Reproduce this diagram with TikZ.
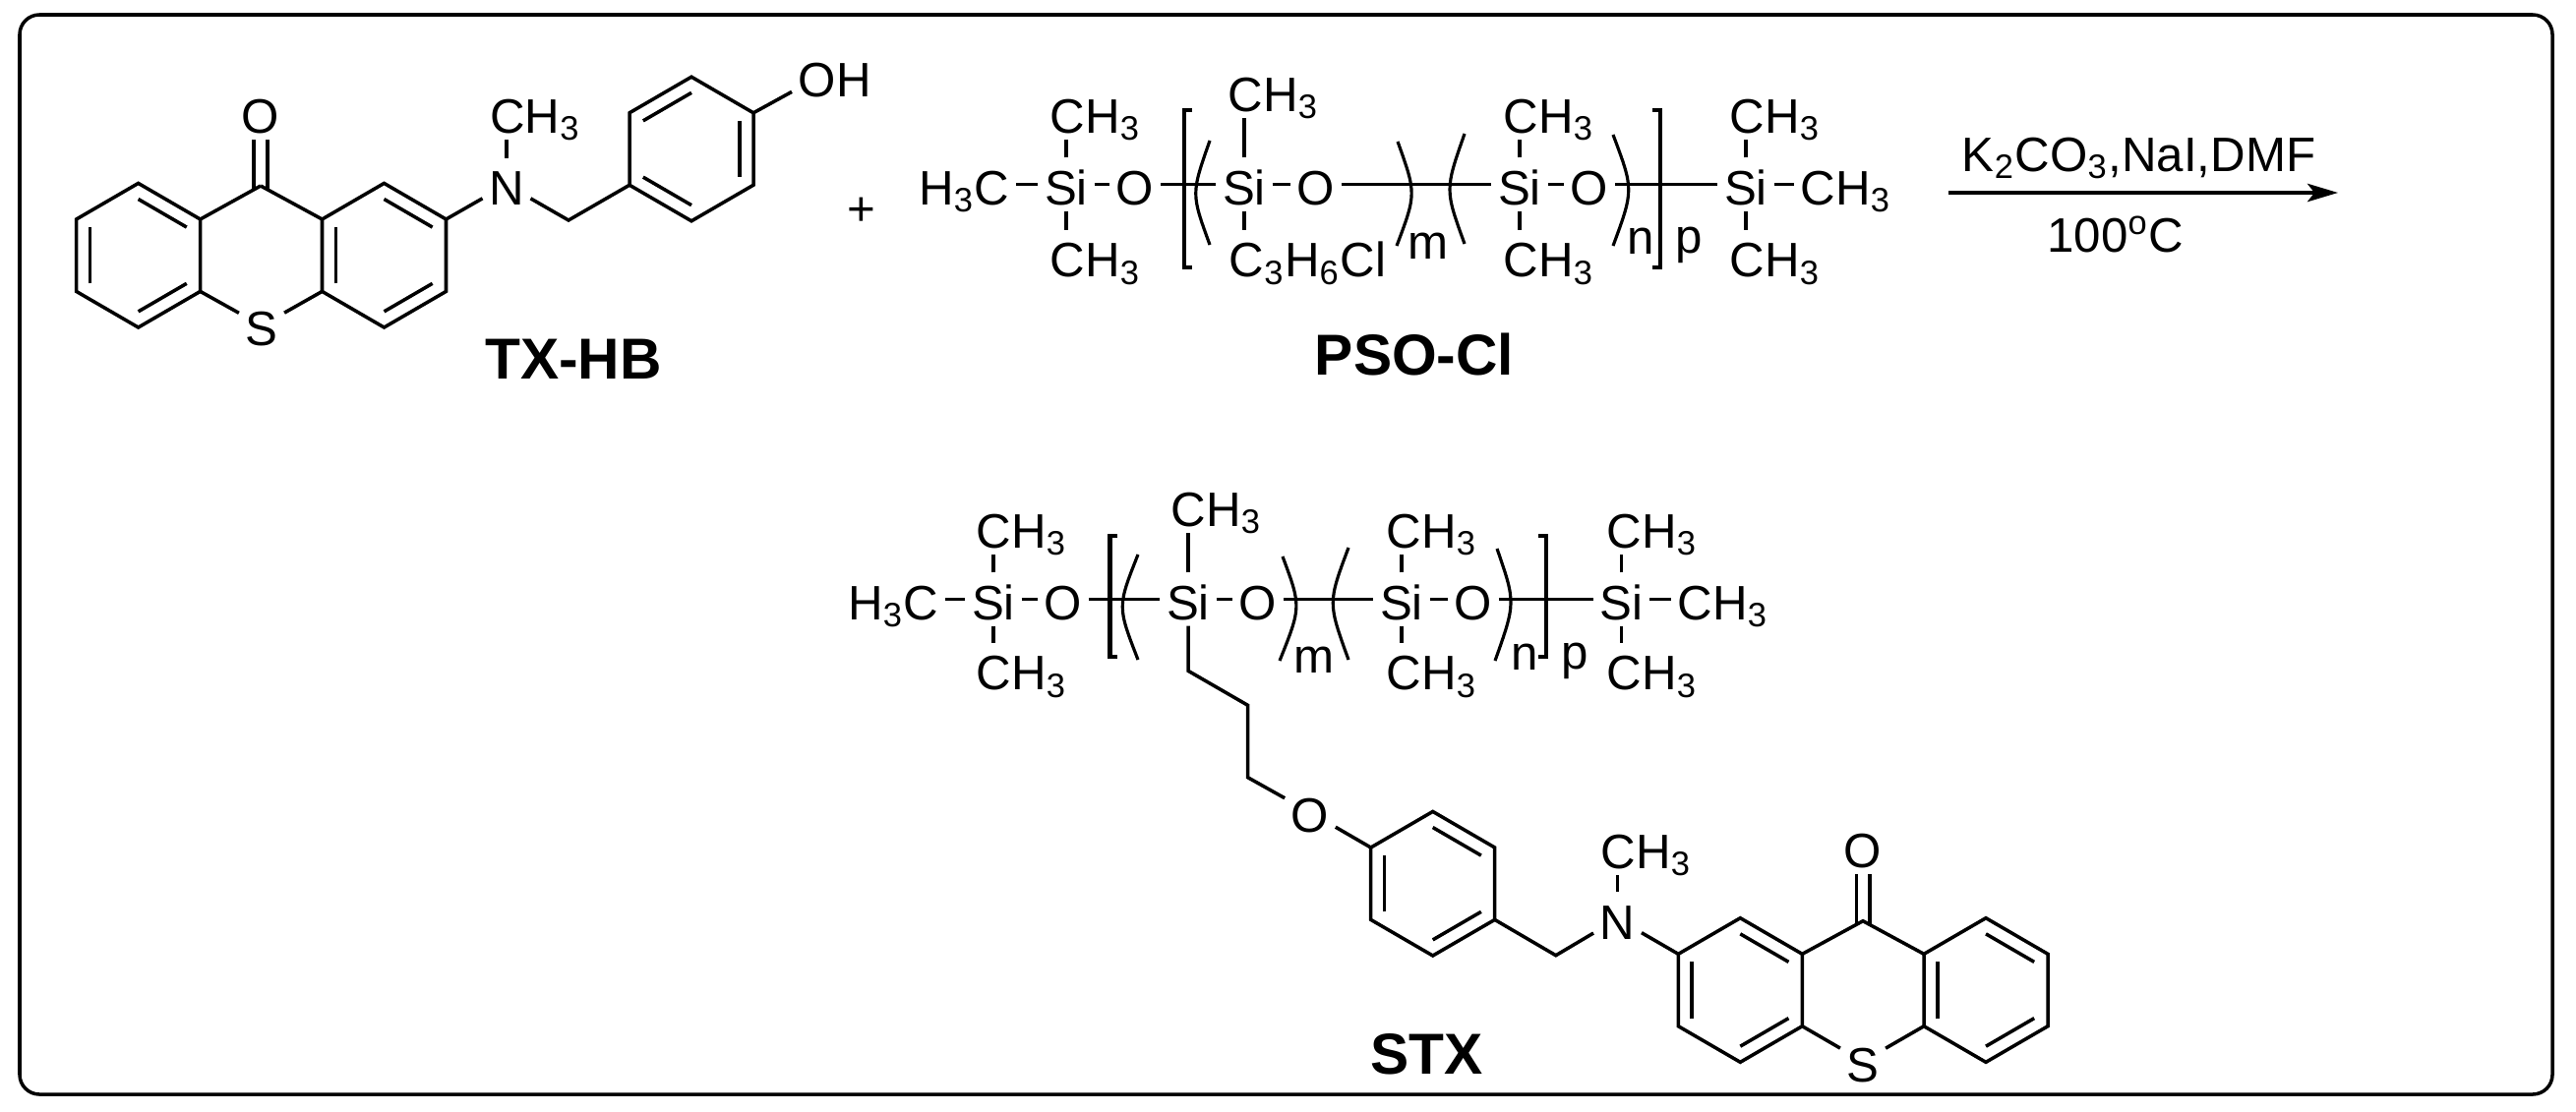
\documentclass[tikz,border=0pt]{standalone}
\usepackage{fontspec}
\setmainfont{Liberation Sans}
\usetikzlibrary{arrows.meta,calc}
\tikzset{
    atom/.style={anchor=base,inner xsep=1.7pt,inner ysep=1.7pt,text height=11.66pt,text depth=0pt,font=\fontsize{14}{16}\selectfont},
    atomw/.style={atom,anchor=base west},
    atome/.style={atom,anchor=base east},
    bond/.style={line width=1pt},
    carbonyl/.style={line width=1pt,double,double distance=2.85pt,shorten <=-1.2pt},
    brack/.style={line width=1.2pt},
    paren/.style={line width=0.9pt},
    index/.style={anchor=base,inner sep=0pt,font=\fontsize{14}{16}\selectfont},
    title/.style={anchor=base,inner sep=0pt,font=\fontsize{16.7}{20}\selectfont\bfseries},
    reagent/.style={anchor=base,inner sep=0pt,font=\fontsize{14}{16}\selectfont},
    frame/.style={line width=1pt,rounded corners=5.7pt},
    arrowline/.style={line width=1.2pt,-{Stealth[length=8.8pt,width=5.2pt,inset=2pt]}}
}
\newcommand{\chthree}{CH\textsubscript{3}}
\newcommand{\hexring}[3]{
    \coordinate (#1c) at (#2);
    \coordinate (#11) at ($(#1c)+(0,-73.3)$);
    \coordinate (#12) at ($(#1c)+(63,-36.7)$);
    \coordinate (#13) at ($(#1c)+(63,36.7)$);
    \coordinate (#14) at ($(#1c)+(0,73.3)$);
    \coordinate (#15) at ($(#1c)+(-63,36.7)$);
    \coordinate (#16) at ($(#1c)+(-63,-36.7)$);
    \draw[bond] (#11) -- (#12) -- (#13) -- (#14) -- (#15) -- (#16) -- cycle;
    \foreach \p/\q in {#3} \draw[bond] ($(#1c)!0.78!(#1\p)$) -- ($(#1c)!0.78!(#1\q)$);
}
\begin{document}
\begin{tikzpicture}[x=0.01cm,y=-0.01cm]
            \useasboundingbox (0,0) rectangle (2619,1130);
            \draw[frame] (20,15) rectangle (2595,1113);

            \coordinate (k) at (265,189);
            \node[atom] (ko) at (265,135) {O};
            \draw[carbonyl] (k) to (ko);
            \hexring{a}{140.6,259.7}{1/2,3/4,5/6}
            \hexring{b}{390.5,259.7}{1/2,3/4,5/6}
            \hexring{c}{703,151.5}{6/1,2/3,4/5}
            \node[atom] (s) at (266,351.7) {S};
            \draw[bond] (a2) to (k);
            \draw[bond] (k) to (b6);
            \draw[bond] (a3) to (s);
            \draw[bond] (s) to (b5);
            \node[atom] (n) at (515,208.3) {N};
            \node[atomw] (nme) at (491.5,135) {\chthree};
            \coordinate (ch) at (578,224);
            \draw[bond] (b2) to (n);
            \draw[bond] (n) to (n |- nme.south);
            \draw[bond] (n) -- (ch) -- (c5);
            \node[atomw] (oh) at (805,98) {OH};
            \draw[bond] (c2) to (oh.200);
            \node[title] (txhb) at (583,385) {TX-HB};
            \node[font=\fontsize{14}{16}\selectfont] (plus) at (876,215) {+};

            \node[atome] (mea) at (1033,208) {H\textsubscript{3}C};
            \node[atom] (sia) at (1084,208) {Si};
            \node[atom] (oa) at (1154,208) {O};
            \node[atom] (sib) at (1265,208) {Si};
            \node[atom] (ob) at (1338,208) {O};
            \node[atom] (sic) at (1545,208) {Si};
            \node[atom] (oc) at (1616,208) {O};
            \node[atom] (sid) at (1775,208) {Si};
            \node[atomw] (med) at (1824,208) {\chthree};
            \node[atomw] (sian) at (1061,135) {\chthree};
            \node[atomw] (sias) at (1061,281.7) {\chthree};
            \node[atomw] (sibn) at (1242,113) {\chthree};
            \node[atomw] (sibs) at (1243,281.7) {C\textsubscript{3}H\textsubscript{6}Cl};
            \node[atomw] (sicn) at (1522,135) {\chthree};
            \node[atomw] (sics) at (1522,281.7) {\chthree};
            \node[atomw] (sidn) at (1752,135) {\chthree};
            \node[atomw] (sids) at (1752,281.7) {\chthree};
            \draw[bond] (mea) to (sia);
            \draw[bond] (sia) to (oa);
            \draw[bond] (oa) to (sib);
            \draw[bond] (sib) to (ob);
            \draw[bond] (ob) to (sic);
            \draw[bond] (sic) to (oc);
            \draw[bond] (oc) to (sid);
            \draw[bond] (sid) to (med);
            \draw[bond] (sia) to (sia |- sian.south);
            \draw[bond] (sia) to (sia |- sias.north);
            \draw[bond] (sib) to (sib |- sibn.south);
            \draw[bond] (sib) to (sib |- sibs.north);
            \draw[bond] (sic) to (sic |- sicn.south);
            \draw[bond] (sic) to (sic |- sics.north);
            \draw[bond] (sid) to (sid |- sidn.south);
            \draw[bond] (sid) to (sid |- sids.north);
            \draw[brack] (1212,112) -- (1204,112) -- (1204,272) -- (1212,272);
            \draw[brack] (1680,112) -- (1688,112) -- (1688,272) -- (1680,272);
            \draw[paren] (1230,143) .. controls (1211,197) .. (1230,249);
            \draw[paren] (1421,144) .. controls (1440,197) .. (1420,250);
            \draw[paren] (1489,136) .. controls (1469,193) .. (1489,248);
            \draw[paren] (1640,137) .. controls (1661,193) .. (1640,250);
            \node[index] (ma) at (1452,263) {m};
            \node[index] (na) at (1668,258) {n};
            \node[index] (pa) at (1717,257) {p};
            \node[title] (psocl) at (1438,381) {PSO-Cl};

            \coordinate (arrowa) at (1981,196);
            \coordinate (arrowb) at (2377,196);
            \draw[arrowline] (arrowa) to (arrowb);
            \node[reagent] (rea) at (2174.5,174.3) {K\textsubscript{2}CO\textsubscript{3},NaI,DMF};
            \node[reagent] (temp) at (2150.7,256.7) {100\textsuperscript{o}C};

            \node[atome] (tmea) at (961,630) {H\textsubscript{3}C};
            \node[atom] (tsia) at (1010,630) {Si};
            \node[atom] (toa) at (1081,630) {O};
            \node[atom] (tsib) at (1208,630) {Si};
            \node[atom] (tob) at (1279,630) {O};
            \node[atom] (tsic) at (1425,630) {Si};
            \node[atom] (toc) at (1498,630) {O};
            \node[atom] (tsid) at (1648.6,630) {Si};
            \node[atomw] (tmed) at (1699,630) {\chthree};
            \node[atomw] (tsian) at (986,557.3) {\chthree};
            \node[atomw] (tsias) at (986,701.7) {\chthree};
            \node[atomw] (tsibn) at (1184,535) {\chthree};
            \node[atomw] (tsicn) at (1403,557.3) {\chthree};
            \node[atomw] (tsics) at (1403,701.7) {\chthree};
            \node[atomw] (tsidn) at (1627,557.3) {\chthree};
            \node[atomw] (tsids) at (1627,701.7) {\chthree};
            \draw[bond] (tmea) to (tsia);
            \draw[bond] (tsia) to (toa);
            \draw[bond] (toa) to (tsib);
            \draw[bond] (tsib) to (tob);
            \draw[bond] (tob) to (tsic);
            \draw[bond] (tsic) to (toc);
            \draw[bond] (toc) to (tsid);
            \draw[bond] (tsid) to (tmed);
            \draw[bond] (tsia) to (tsia |- tsian.south);
            \draw[bond] (tsia) to (tsia |- tsias.north);
            \draw[bond] (tsib) to (tsib |- tsibn.south);
            \draw[bond] (tsic) to (tsic |- tsicn.south);
            \draw[bond] (tsic) to (tsic |- tsics.north);
            \draw[bond] (tsid) to (tsid |- tsidn.south);
            \draw[bond] (tsid) to (tsid |- tsids.north);
            \draw[brack] (1136,545) -- (1128.5,545) -- (1128.5,668) -- (1136,668);
            \draw[brack] (1564,545) -- (1572,545) -- (1572,668) -- (1564,668);
            \draw[paren] (1157,564) .. controls (1136,617) .. (1157,671);
            \draw[paren] (1304,566) .. controls (1323,617) .. (1301,672);
            \draw[paren] (1371,557) .. controls (1350,613) .. (1371,671);
            \draw[paren] (1522,558) .. controls (1541,613) .. (1520,672);
            \node[index] (mb) at (1336,684) {m};
            \node[index] (nb) at (1550,681) {n};
            \node[index] (pb) at (1601.5,680) {p};

            \coordinate (cha) at (1208,682.3);
            \coordinate (chb) at (1268.6,717.3);
            \coordinate (chc) at (1268.6,790.7);
            \node[atom] (tether) at (1332,846.7) {O};
            \draw[bond] (tsib) -- (cha) -- (chb) -- (chc) -- (tether);
            \hexring{d}{1456.7,898.7}{1/2,3/4,5/6}
            \draw[bond] (tether) to (d6);
            \coordinate (chd) at (1581.8,971.7);
            \node[atom] (tn) at (1644.5,955) {N};
            \node[atomw] (tnme) at (1621,883) {\chthree};
            \draw[bond] (d3) -- (chd) -- (tn);
            \draw[bond] (tn) to (tn |- tnme.south);
            \coordinate (tk) at (1894,936.7);
            \node[atom] (tko) at (1894,882.7) {O};
            \draw[carbonyl] (tk) to (tko);
            \hexring{e}{1769.3,1007}{1/2,3/4,5/6}
            \hexring{f}{2019,1007}{1/2,3/4,5/6}
            \draw[bond] (tn) to (e6);
            \draw[bond] (e2) -- (tk) -- (f6);
            \node[atom] (ts) at (1894,1100) {S};
            \draw[bond] (e3) to (ts);
            \draw[bond] (ts) to (f5);
            \node[title] (stx) at (1450.5,1092.7) {STX};
\end{tikzpicture}
\end{document}
